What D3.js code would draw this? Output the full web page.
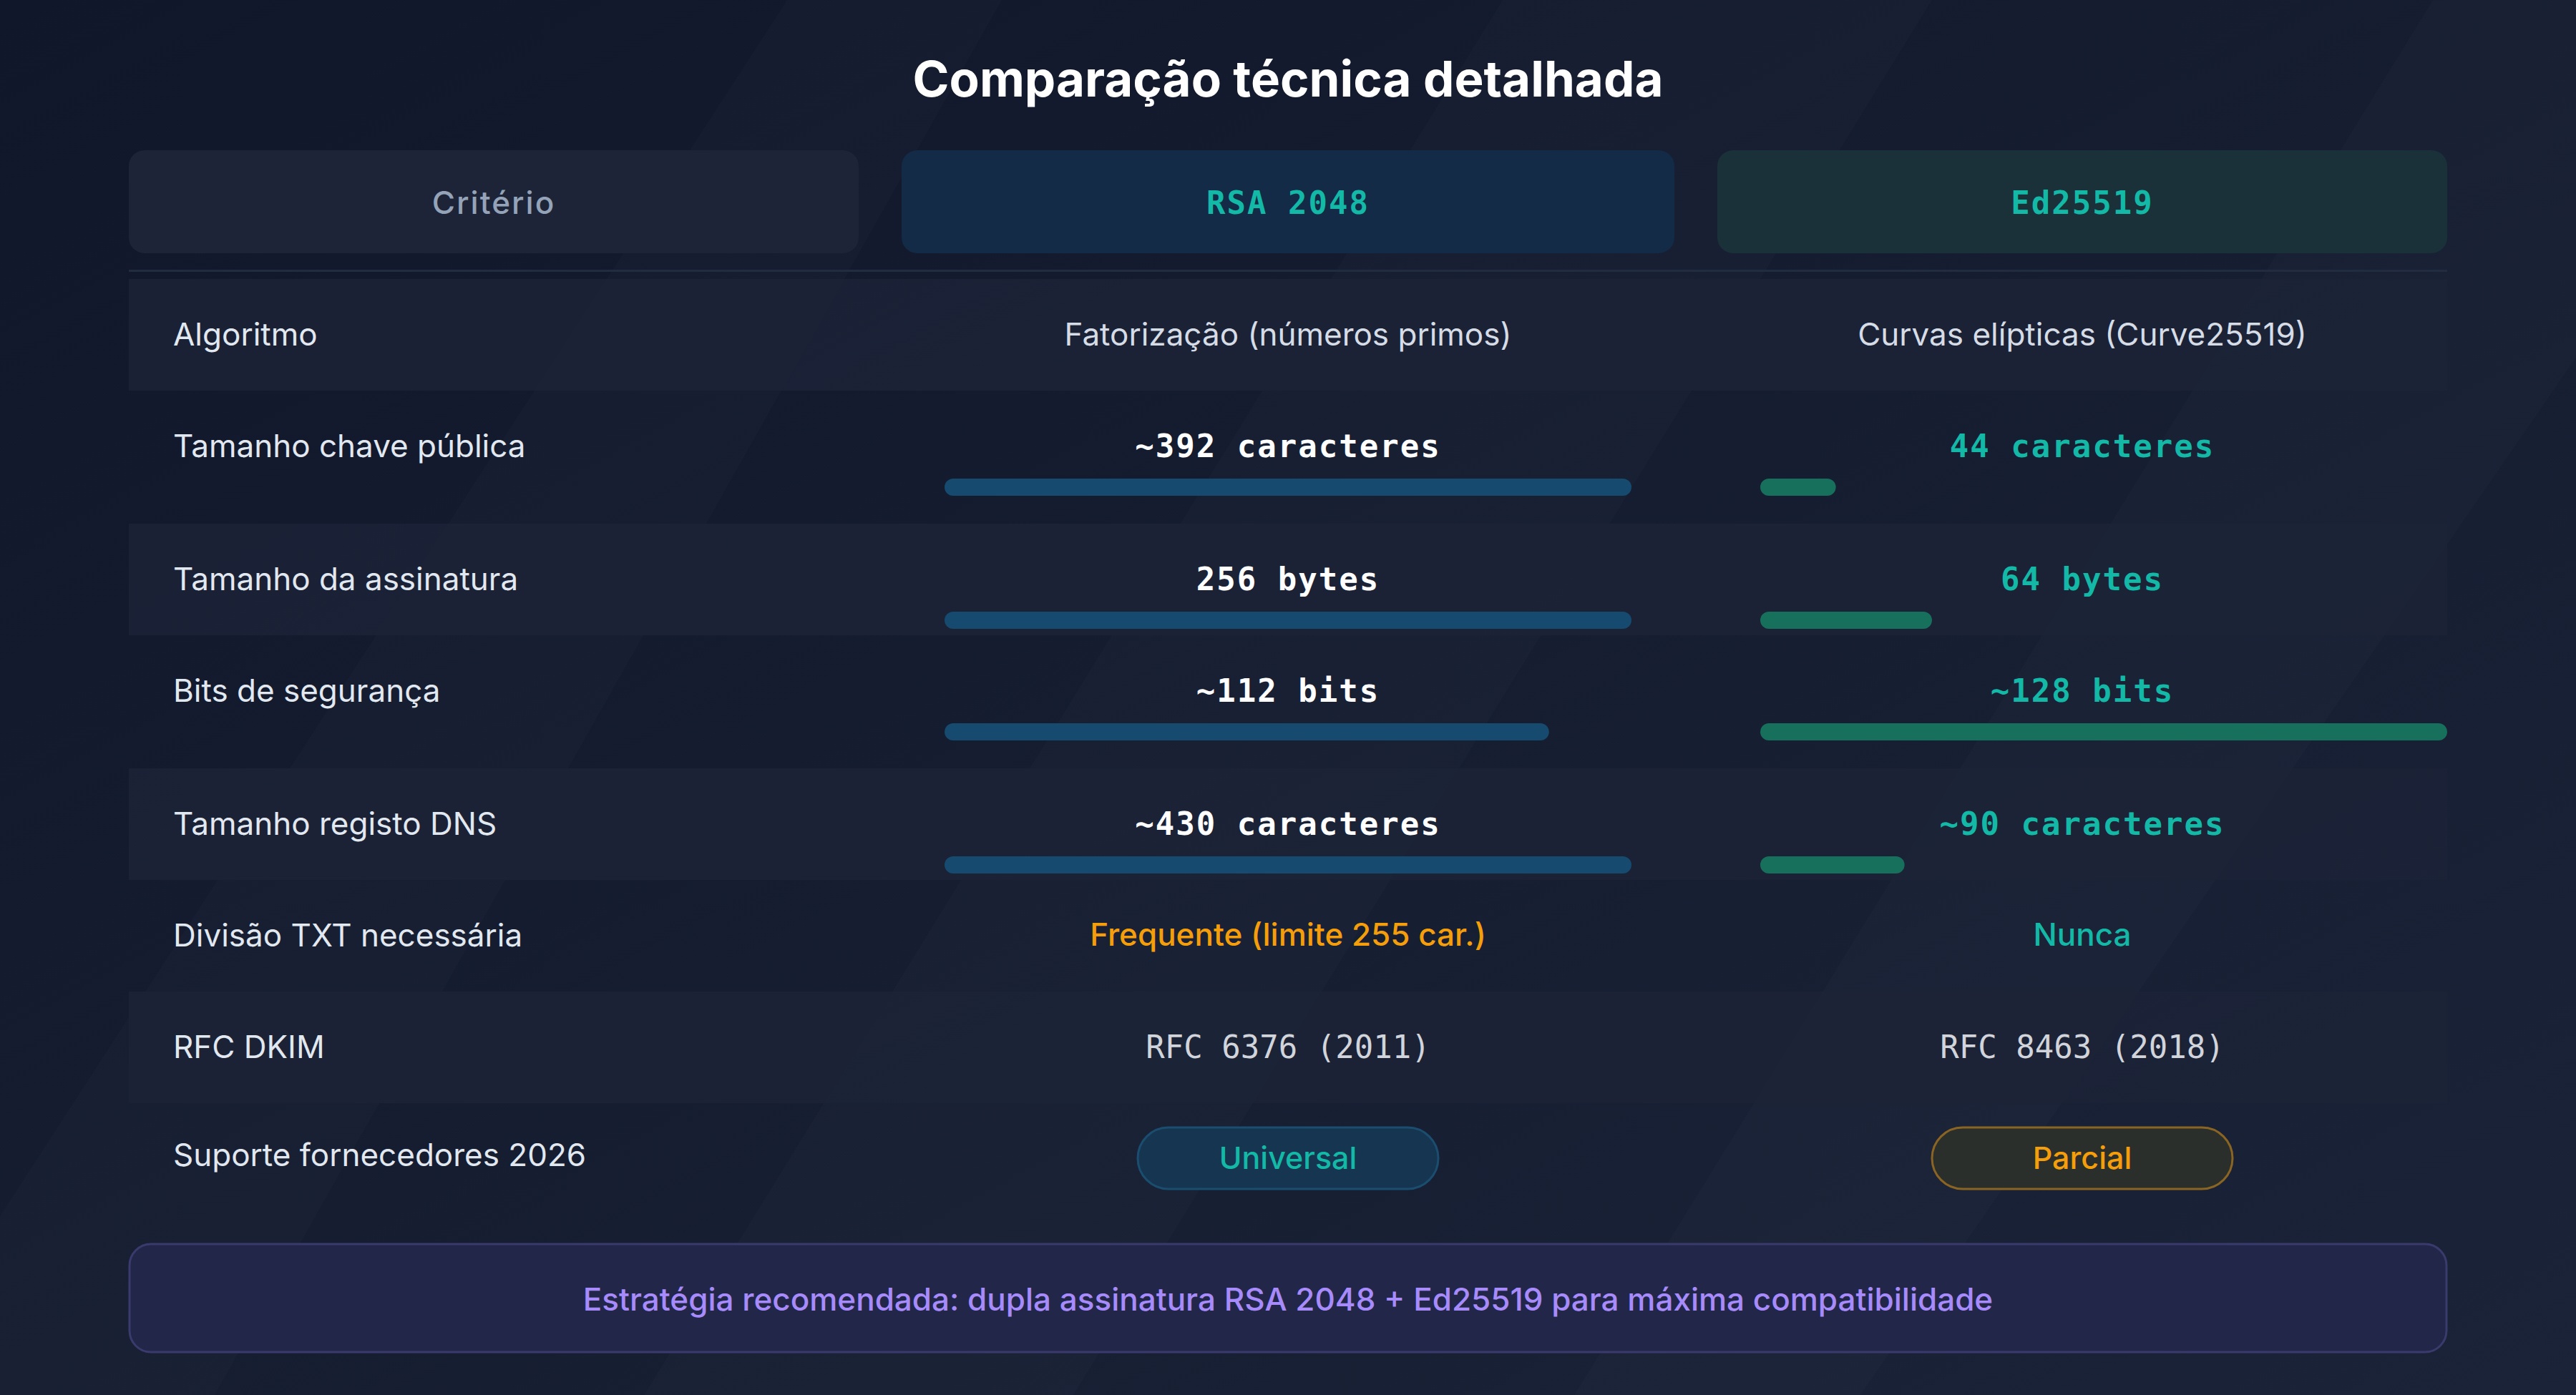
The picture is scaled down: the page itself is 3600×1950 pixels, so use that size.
<!DOCTYPE html>
<html>
<head>
<meta charset="utf-8">
<script src="https://cdn.jsdelivr.net/npm/d3@7/dist/d3.min.js"></script>
<style>
  html, body { margin: 0; padding: 0; background: #131a2c; }
  svg { display: block; }
</style>
</head>
<body>
<svg id="chart" width="3600" height="1950"></svg>
<script>
// ---------- DATA ----------
const title = "Comparação técnica detalhada";
const headers = ["Critério", "RSA 2048", "Ed25519"];
const criteria = [
  "Algoritmo",
  "Tamanho chave pública",
  "Tamanho da assinatura",
  "Bits de segurança",
  "Tamanho registo DNS",
  "Divisão TXT necessária",
  "RFC DKIM",
  "Suporte fornecedores 2026"
];
const rowKinds = ["text", "bar", "bar", "bar", "bar", "status", "mono", "pill"];
const rsaValues = [
  "Fatorização (números primos)",
  "~392 caracteres",
  "256 bytes",
  "~112 bits",
  "~430 caracteres",
  "Frequente (limite 255 car.)",
  "RFC 6376 (2011)",
  "Universal"
];
const edValues = [
  "Curvas elípticas (Curve25519)",
  "44 caracteres",
  "64 bytes",
  "~128 bits",
  "~90 caracteres",
  "Nunca",
  "RFC 8463 (2018)",
  "Parcial"
];
// relative bar length (% of track)
const rsaBar = [null, 100, 100, 88, 100, null, null, null];
const edBar  = [null, 11, 25, 100, 21, null, null, null];
const tones = { "Frequente (limite 255 car.)": "warn", "Nunca": "ok", "Universal": "ok", "Parcial": "warn" };
const footerNote = "Estratégia recomendada: dupla assinatura RSA 2048 + Ed25519 para máxima compatibilidade";

// ---------- LAYOUT ----------
const W = 3600, H = 1950;
const svg = d3.select("#chart");
const defs = svg.append("defs");

const bg = defs.append("linearGradient").attr("id", "bg").attr("x1", 0).attr("y1", 0).attr("x2", 1).attr("y2", 1);
bg.append("stop").attr("offset", "0%").attr("stop-color", "#10172a");
bg.append("stop").attr("offset", "100%").attr("stop-color", "#1b2338");
svg.append("rect").attr("width", W).attr("height", H).attr("fill", "url(#bg)");

// subtle diagonal bands
const bands = [
  [[900, 1950], [1500, 1950], [2700, 0], [2100, 0]],
  [[2200, 1950], [2600, 1950], [3600, 500], [3600, 0], [3400, 0]],
  [[0, 1700], [0, 1950], [300, 1950], [1400, 0], [1100, 0]]
];
svg.selectAll("polygon.band").data(bands).join("polygon")
  .attr("class", "band")
  .attr("points", d => d.map(p => p.join(",")).join(" "))
  .attr("fill", "#ffffff").attr("opacity", 0.015);

const cols = [
  { x0: 180, x1: 1200 },
  { x0: 1260, x1: 2340 },
  { x0: 2400, x1: 3420 }
];
const tableX0 = 180, tableX1 = 3420;

// title
svg.append("text").attr("x", 1800).attr("y", 135).attr("text-anchor", "middle")
  .attr("font-family", "Inter, 'Noto Sans', sans-serif").attr("font-weight", 700)
  .attr("font-size", 69).attr("fill", "#ffffff").text(title);

// headers
const headFill = ["#1d2437", "#132b46", "#1a3139"];
const headColor = ["#94a3b8", "#14b8a6", "#14b8a6"];
const headFont = ["Inter, sans-serif", "'DejaVu Sans Mono', monospace", "'DejaVu Sans Mono', monospace"];
const hg = svg.selectAll("g.head").data(headers).join("g").attr("class", "head");
hg.append("rect")
  .attr("x", (d, i) => cols[i].x0).attr("y", 210)
  .attr("width", (d, i) => cols[i].x1 - cols[i].x0).attr("height", 144)
  .attr("rx", 22).attr("fill", (d, i) => headFill[i]);
hg.append("text")
  .attr("x", (d, i) => (cols[i].x0 + cols[i].x1) / 2).attr("y", 299)
  .attr("text-anchor", "middle")
  .attr("font-family", (d, i) => headFont[i])
  .attr("font-weight", (d, i) => i === 0 ? 500 : 700)
  .attr("font-size", 44)
  .attr("letter-spacing", 2)
  .attr("fill", (d, i) => headColor[i]).text(d => d);

svg.append("rect").attr("x", tableX0).attr("y", 377).attr("width", tableX1 - tableX0).attr("height", 3).attr("fill", "#222c40");

// row geometry: base height, darker bar rows are taller
const rowH = (i) => (rowKinds[i] === "bar" && i % 2 === 1) ? 186 : 156;
const rowTops = [];
let yCur = 390;
criteria.forEach((c, i) => { rowTops.push(yCur); yCur += rowH(i); });

const barScale = d3.scaleLinear().domain([0, 100]).range([0, 960]);

const rows = svg.selectAll("g.row").data(criteria).join("g").attr("class", "row")
  .attr("transform", (d, i) => `translate(0,${rowTops[i]})`);

rows.filter((d, i) => i % 2 === 0).append("rect")
  .attr("x", tableX0).attr("y", 0).attr("width", tableX1 - tableX0)
  .attr("height", 156)
  .attr("fill", "#1c2337").attr("opacity", 0.85);

rows.append("text").attr("x", 242).attr("y", (d, i) => rowKinds[i] === "pill" ? 88 : 93)
  .attr("font-family", "Inter, sans-serif").attr("font-size", 44)
  .attr("fill", "#e2e8f0").text(d => d);

const colData = [
  { values: rsaValues, bars: rsaBar, col: cols[1], barColor: "#164a6e", valColor: "#ffffff" },
  { values: edValues, bars: edBar, col: cols[2], barColor: "#17705c", valColor: "#14b8a6" }
];

colData.forEach((cd) => {
  const cx = (cd.col.x0 + cd.col.x1) / 2;
  rows.each(function (d, i) {
    const g = d3.select(this);
    const kind = rowKinds[i];
    const v = cd.values[i];
    if (kind === "text") {
      g.append("text").attr("x", cx).attr("y", 93).attr("text-anchor", "middle")
        .attr("font-family", "Inter, sans-serif").attr("font-size", 44)
        .attr("fill", "#d5dce6").text(v);
    } else if (kind === "bar") {
      g.append("text").attr("x", cx).attr("y", 93).attr("text-anchor", "middle")
        .attr("font-family", "'DejaVu Sans Mono', monospace").attr("font-weight", 700)
        .attr("font-size", 44).attr("letter-spacing", 2)
        .attr("fill", cd.valColor).text(v);
      g.append("rect").attr("x", cd.col.x0 + 60).attr("y", 123)
        .attr("width", barScale(cd.bars[i])).attr("height", 24).attr("rx", 12)
        .attr("fill", cd.barColor);
    } else if (kind === "status") {
      g.append("text").attr("x", cx).attr("y", 92).attr("text-anchor", "middle")
        .attr("font-family", "Inter, sans-serif").attr("font-weight", 500).attr("font-size", 44)
        .attr("fill", tones[v] === "warn" ? "#f59e0b" : "#14b8a6").text(v);
    } else if (kind === "mono") {
      g.append("text").attr("x", cx).attr("y", 93).attr("text-anchor", "middle")
        .attr("font-family", "'DejaVu Sans Mono', monospace").attr("font-size", 44)
        .attr("fill", "#d1d5db").text(v);
    } else if (kind === "pill") {
      const warn = tones[v] === "warn";
      g.append("rect").attr("x", cx - 210).attr("y", 34).attr("width", 420).attr("height", 86)
        .attr("rx", 43)
        .attr("fill", warn ? "#2b2f2b" : "#163550")
        .attr("stroke", warn ? "#8a6422" : "#1b4d6e").attr("stroke-width", 3);
      g.append("text").attr("x", cx).attr("y", 92).attr("text-anchor", "middle")
        .attr("font-family", "Inter, sans-serif").attr("font-weight", 500).attr("font-size", 43)
        .attr("fill", warn ? "#f59e0b" : "#14b8a6").text(v);
    }
  });
});

// footer
svg.append("rect").attr("x", 181).attr("y", 1739).attr("width", 3238).attr("height", 151)
  .attr("rx", 30).attr("fill", "#22274a").attr("stroke", "#3a3b6c").attr("stroke-width", 3);
svg.append("text").attr("x", 1800).attr("y", 1832).attr("text-anchor", "middle")
  .attr("font-family", "Inter, sans-serif").attr("font-weight", 500).attr("font-size", 44)
  .attr("fill", "#a78bfa").text(footerNote);
</script>
</body>
</html>
